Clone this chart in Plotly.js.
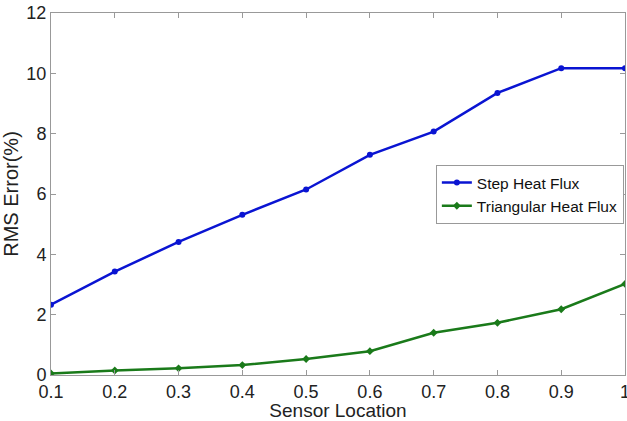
<!DOCTYPE html>
<html>
<head>
<meta charset="utf-8">
<script src="https://cdn.plot.ly/plotly-3.0.1.min.js"></script>
<style>html,body{margin:0;padding:0;background:#fff;}#chart{width:627px;height:421px;}</style>
</head>
<body>
<div id="chart"></div>
<script>
const sensorLocation = [0.1, 0.2, 0.3, 0.4, 0.5, 0.6, 0.7, 0.8, 0.9, 1.0];
const stepHeatFlux = [2.33, 3.43, 4.41, 5.31, 6.15, 7.3, 8.07, 9.35, 10.17, 10.17];
const triangularHeatFlux = [0.05, 0.15, 0.22, 0.33, 0.53, 0.79, 1.4, 1.73, 2.18, 3.02];
const seriesNames = ["Step Heat Flux", "Triangular Heat Flux"];
const xTickText = ["0.1","0.2","0.3","0.4","0.5","0.6","0.7","0.8","0.9","1"];

const FONT = "Liberation Sans, Arial, sans-serif";

const traces = [
  {x: sensorLocation, y: stepHeatFlux, name: seriesNames[0], mode: "lines+markers",
   line: {color: "#0a14d2", width: 2.5}, marker: {symbol: "circle", size: 6, color: "#0a14d2"}},
  {x: sensorLocation, y: triangularHeatFlux, name: seriesNames[1], mode: "lines+markers",
   line: {color: "#1a7a1a", width: 2.5}, marker: {symbol: "diamond", size: 6, color: "#1a7a1a"}}
];

const axisCommon = {
  showline: true, linecolor: "#999", linewidth: 1, mirror: "ticks",
  ticks: "inside", ticklen: 5, tickcolor: "#999", showgrid: false, zeroline: false,
  ticklabeloverflow: "allow", automargin: false,
  tickfont: {family: FONT, size: 18, color: "#222"}
};

const layout = {
  width: 627, height: 421,
  margin: {l: 51, r: 2, t: 13, b: 46},
  paper_bgcolor: "#fff", plot_bgcolor: "#fff",
  showlegend: true,
  legend: {x: 0.998, y: 0.58, xanchor: "right", yanchor: "top",
           bgcolor: "#fff", bordercolor: "#999", borderwidth: 1,
           font: {family: FONT, size: 15.5, color: "#111"},
           tracegroupgap: 0, itemwidth: 30},
  xaxis: Object.assign({}, axisCommon, {range: [0.1, 1.0], tickvals: sensorLocation,
          ticktext: xTickText,
          title: {text: "Sensor Location", standoff: 0,
                  font: {family: FONT, size: 19, color: "#222"}}}),
  yaxis: Object.assign({}, axisCommon, {range: [0, 12], dtick: 2, tick0: 0,
          title: {text: "RMS Error(%)", standoff: 4,
                  font: {family: FONT, size: 20, color: "#222"}}})
};

Plotly.newPlot("chart", traces, layout, {displayModeBar: false, staticPlot: true});
</script>
</body>
</html>
